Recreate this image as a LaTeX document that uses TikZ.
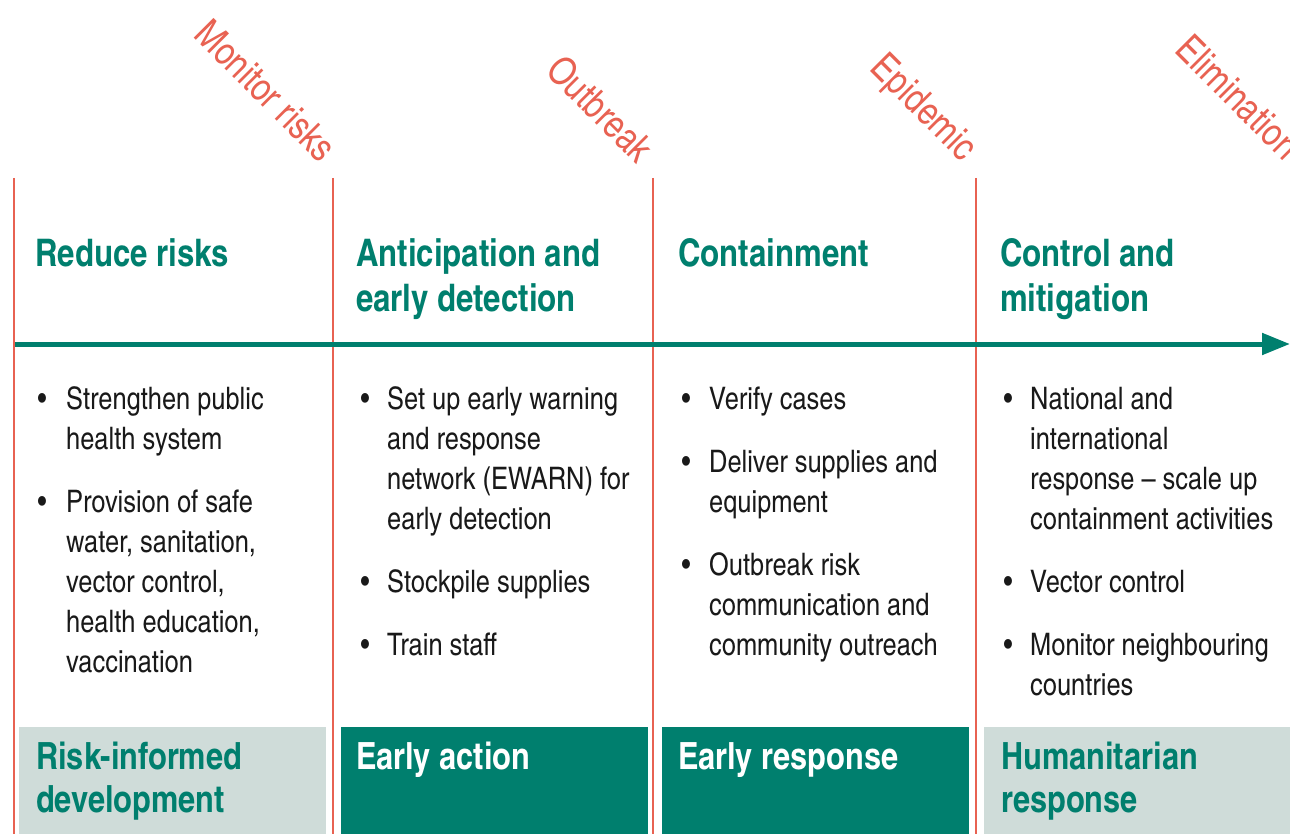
\documentclass[tikz,border=0pt]{standalone}
\usepackage{fontspec}
\setmainfont{texgyreheroscn}[Extension=.otf, UprightFont=*-regular, BoldFont=*-bold, ItalicFont=*-italic, BoldItalicFont=*-bolditalic]
\usetikzlibrary{arrows.meta}
\definecolor{coral}{RGB}{232,98,82}
\definecolor{teal}{RGB}{0,127,110}
\definecolor{boxgray}{RGB}{207,220,217}
\definecolor{bodyink}{RGB}{25,25,25}
\tikzset{
  phase/.style={line width=2.8pt, draw=coral},
  timeline/.style={line width=5pt, draw=teal, -{Triangle[length=28pt,width=21pt]}},
  stage/.style={rotate=-45, anchor=base east, inner sep=0pt, text=coral, font=\fontsize{39}{39}\selectfont},
  heading/.style={anchor=base west, inner sep=0pt, align=left, text=teal, font=\bfseries\fontsize{38}{45}\selectfont},
  item/.style={anchor=base west, inner sep=0pt, align=left, text=bodyink, font=\fontsize{31}{40}\selectfont},
  dot/.style={anchor=base, inner sep=0pt, text=bodyink, font=\fontsize{31}{40}\selectfont},
  lightbox/.style={fill=boxgray, draw=none},
  darkbox/.style={fill=teal, draw=none},
  boxlabel/.style={anchor=base west, inner sep=0pt, align=left, font=\bfseries\fontsize{37.5}{43}\selectfont},
}
\begin{document}
\begin{tikzpicture}[x=1pt,y=-1pt]
\useasboundingbox (0,0) rectangle (1290,834);
% bottom boxes
\fill[lightbox] (19,727) rectangle (326,834);
\fill[darkbox] (341,727) rectangle (648,834);
\fill[darkbox] (662,727) rectangle (969,834);
\fill[lightbox] (984,727) rectangle (1290,834);
% phase lines
\coordinate (l1t) at (14,178); \coordinate (l1b) at (14,834);
\coordinate (l2t) at (333,178); \coordinate (l2b) at (333,834);
\coordinate (l3t) at (653,178); \coordinate (l3b) at (653,834);
\coordinate (l4t) at (976,178); \coordinate (l4b) at (976,834);
\draw[phase] (l1t) -- (l1b);
\draw[phase] (l2t) -- (l2b);
\draw[phase] (l3t) -- (l3b);
\draw[phase] (l4t) -- (l4b);
% timeline
\coordinate (ts) at (15,344);
\coordinate (te) at (1290,344);
\draw[timeline] (ts) -- (te);
% stage labels
\node[stage] (s1) at (320,164) {Monitor risks};
\node[stage] (s2) at (637,165) {Outbreak};
\node[stage] (s3) at (962,163) {Epidemic};
\node[stage] (s4) at (1284,162) {Elimination};
% headings
\node[heading] (h1) at (35,267) {Reduce risks};
\node[heading] (h2) at (356,312) {Anticipation and\\early detection};
\node[heading] (h3) at (678,267) {Containment};
\node[heading] (h4) at (1000,312) {Control and\\mitigation};
% column 1
\node[dot] (b11) at (42,409) {\textbullet};
\node[item] (t11) at (66,449) {Strengthen public\\health system};
\node[dot] (b12) at (42,512) {\textbullet};
\node[item] (t12) at (66,672) {Provision of safe\\water, sanitation,\\vector control,\\health education,\\vaccination};
% column 2
\node[dot] (b21) at (365,409) {\textbullet};
\node[item] (t21) at (387,529) {Set up early warning\\and response\\network (EWARN) for\\early detection};
\node[dot] (b22) at (365,592) {\textbullet};
\node[item] (t22) at (387,592) {Stockpile supplies};
\node[dot] (b23) at (365,655) {\textbullet};
\node[item] (t23) at (387,655) {Train staff};
% column 3
\node[dot] (b31) at (686,409) {\textbullet};
\node[item] (t31) at (709,409) {Verify cases};
\node[dot] (b32) at (686,472) {\textbullet};
\node[item] (t32) at (709,512) {Deliver supplies and\\equipment};
\node[dot] (b33) at (686,575) {\textbullet};
\node[item] (t33) at (709,655) {Outbreak risk\\communication and\\community outreach};
% column 4
\node[dot] (b41) at (1008,409) {\textbullet};
\node[item] (t41) at (1030,529) {National and\\international\\response -- scale up\\containment activities};
\node[dot] (b42) at (1008,592) {\textbullet};
\node[item] (t42) at (1030,592) {Vector control};
\node[dot] (b43) at (1008,655) {\textbullet};
\node[item] (t43) at (1030,695) {Monitor neighbouring\\countries};
% box labels
\node[boxlabel, text=teal] (r1) at (36,812) {Risk-informed\\development};
\node[boxlabel, text=white] (r2) at (356,769) {Early action};
\node[boxlabel, text=white] (r3) at (678,769) {Early response};
\node[boxlabel, text=teal] (r4) at (1001,812) {Humanitarian\\response};
\end{tikzpicture}
\end{document}
